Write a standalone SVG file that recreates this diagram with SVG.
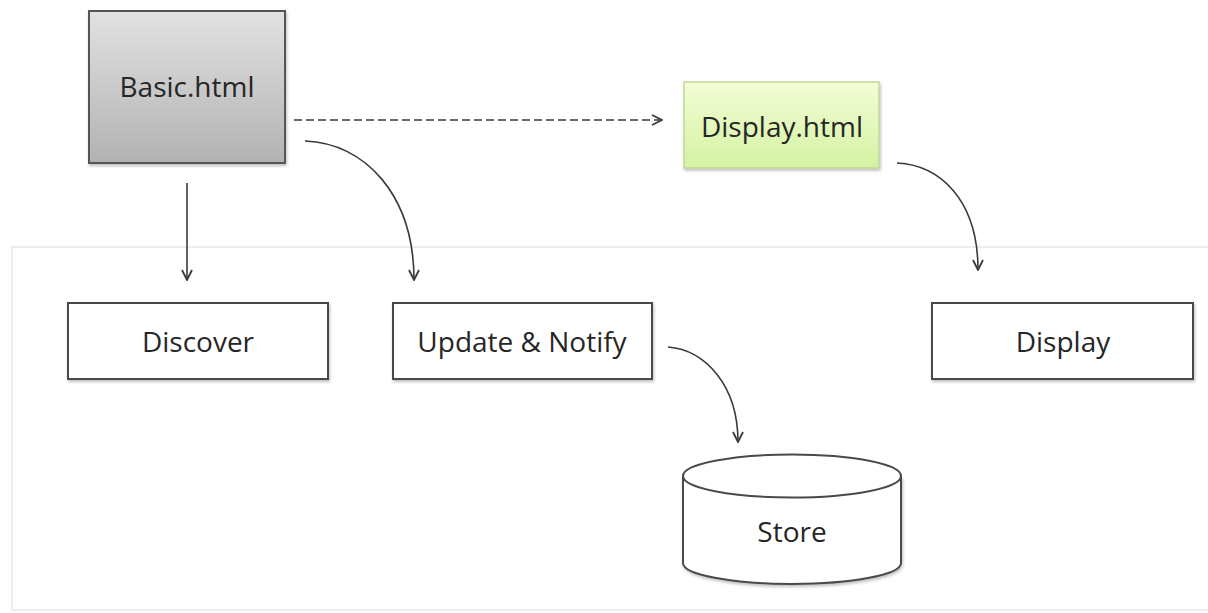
<svg xmlns="http://www.w3.org/2000/svg" width="1208" height="613" viewBox="0 0 1208 613">
<defs>
<linearGradient id="gGray" x1="0" y1="0" x2="0" y2="1">
<stop offset="0" stop-color="#e2e2e2"/>
<stop offset="1" stop-color="#b2b2b2"/>
</linearGradient>
<linearGradient id="gGreen" x1="0" y1="0" x2="0" y2="1">
<stop offset="0" stop-color="#f3fdd6"/>
<stop offset="1" stop-color="#d4f2a2"/>
</linearGradient>
<filter id="sh" x="-10%" y="-10%" width="125%" height="130%">
<feDropShadow dx="1" dy="2" stdDeviation="1.5" flood-color="#000" flood-opacity="0.25"/>
</filter>
<marker id="arr" viewBox="0 0 12 12" refX="11" refY="6" markerWidth="12" markerHeight="12" markerUnits="userSpaceOnUse" orient="auto">
<path d="M1,1 L11,6 L1,11" fill="none" stroke="#3a3a3a" stroke-width="1.8"/>
</marker>
</defs>
<style>
.box{fill:#fff;stroke:#4a4a4a;stroke-width:2}
.lbl{font-family:"Open Sans","Liberation Sans",sans-serif;font-size:28px;fill:#262626;text-anchor:middle}
.con{fill:none;stroke:#3a3a3a;stroke-width:1.6;marker-end:url(#arr)}
</style>
<rect width="1208" height="613" fill="#fff"/>
<rect id="panel" x="12" y="247" width="1210" height="363" fill="none" stroke="#ededed" stroke-width="2"/>

<g id="basic">
<rect x="89" y="11" width="196" height="152" fill="url(#gGray)" stroke="#555" stroke-width="2" filter="url(#sh)"/>
<text class="lbl" x="187" y="97">Basic.html</text>
</g>
<g id="displayhtml">
<rect x="684" y="82" width="195" height="86" fill="url(#gGreen)" stroke="#c3d69c" stroke-width="1.5" filter="url(#sh)"/>
<text class="lbl" x="782" y="137">Display.html</text>
</g>
<g id="discover">
<rect class="box" x="68" y="303" width="260" height="76" filter="url(#sh)"/>
<text class="lbl" x="198" y="352">Discover</text>
</g>
<g id="update">
<rect class="box" x="393" y="303" width="259" height="76" filter="url(#sh)"/>
<text class="lbl" x="522" y="352">Update &amp; Notify</text>
</g>
<g id="display">
<rect class="box" x="932" y="303" width="261" height="76" filter="url(#sh)"/>
<text class="lbl" x="1063" y="352">Display</text>
</g>
<g id="store">
<path d="M683,476 L683,563 A109,21 0 0 0 901,563 L901,476" fill="#fff" stroke="#4a4a4a" stroke-width="2" filter="url(#sh)"/>
<ellipse cx="792" cy="476" rx="109" ry="21.5" fill="#fff" stroke="#4a4a4a" stroke-width="2"/>
<text class="lbl" x="792" y="542">Store</text>
</g>

<g id="connectors">
<path class="con" d="M294,120 L662,120" stroke-dasharray="8,4" stroke-width="2"/>
<path class="con" d="M187,183 L187,280"/>
<path class="con" d="M305,141 C365,143 414,195 414,280"/>
<path class="con" d="M897,163 C940,165 978,200 978,270"/>
<path class="con" d="M668,347 C705,350 738,385 738,442"/>
</g>
</svg>
